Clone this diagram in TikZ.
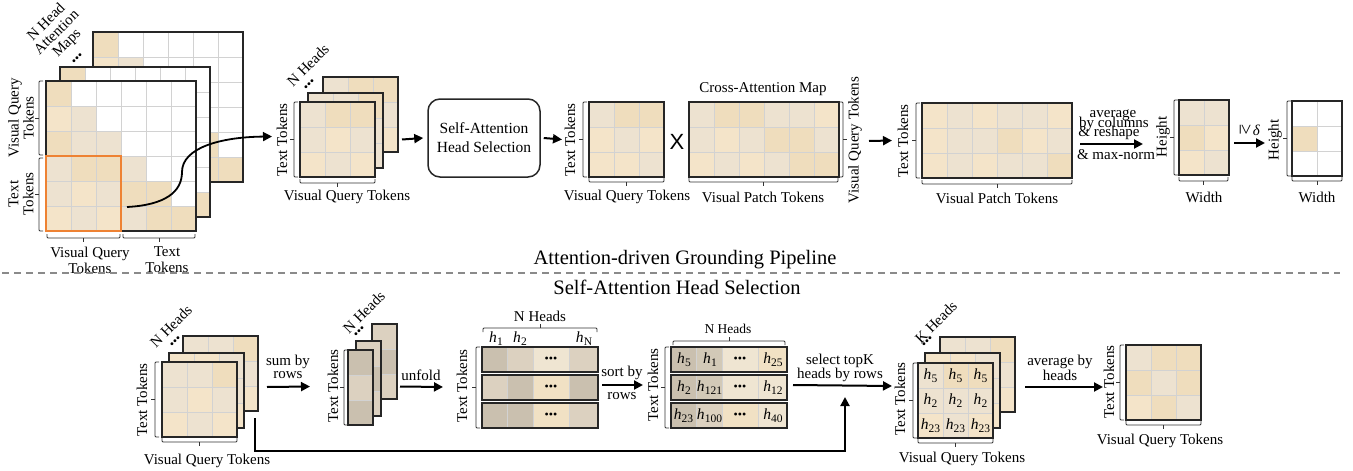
\documentclass[tikz,border=0pt]{standalone}
\usepackage{fontspec}
\setmainfont{Liberation Serif}
\setsansfont{Liberation Sans}
\usetikzlibrary{arrows.meta,calc}
\definecolor{L1}{HTML}{F4E4C9}
\definecolor{L2}{HTML}{EDE2D0}
\definecolor{L3}{HTML}{EFDDBD}
\definecolor{G1}{HTML}{CAC0AF}
\definecolor{G2}{HTML}{DCD1C0}
\definecolor{G3}{HTML}{EFE5D2}
\definecolor{G4}{HTML}{F1E1C4}
\definecolor{G6}{HTML}{D2C9B7}
\definecolor{gridc}{HTML}{D2D2D2}
\definecolor{orangeb}{HTML}{EE8233}
\definecolor{dashc}{HTML}{8A8A8A}

\tikzset{
 matnode/.style={inner sep=0pt, outer sep=0pt},
 matborder/.style={draw=black!85, line width=1.3pt},
 gridline/.style={draw=gridc, line width=1pt},
 bracestyle/.style={draw=black!80, line width=0.9pt, rounded corners=1pt},
 lab/.style={font=\fontsize{15}{13}\selectfont, inner sep=0pt, align=center},
 title/.style={font=\fontsize{20.5}{20}\selectfont, inner sep=0pt},
 dotsty/.style={font=\fontsize{12}{12}\selectfont, inner sep=0pt},
 hl/.style={font=\fontsize{15.5}{15}\selectfont, inner sep=0pt},
 arr/.style={line width=2pt, -{Triangle[length=9pt,width=9pt]}},
 boxsty/.style={draw=black!85, line width=1.5pt, rounded corners=12pt, align=center, font=\fontsize{15.5}{19}\selectfont},
}

\newcommand{\hh}[1]{\textit{h}\kern0.2pt\raisebox{-3pt}{\fontsize{11.5}{11.5}\selectfont #1}}

% matrix of 25x25 cells: name, x, y, ncols, nrows, colours (row-major)
\newcommand{\mtx}[6]{%
  \node[matnode, minimum width=#4*25pt, minimum height=#5*25pt, anchor=north west] (#1) at (#2,#3) {};
  \foreach \mcol [count=\i from 0] in {#6} {%
    \pgfmathtruncatemacro\cc{mod(\i,#4)}%
    \pgfmathtruncatemacro\rr{div(\i,#4)}%
    \fill[\mcol] ({#2+\cc*25},{#3+\rr*25}) rectangle ++(25,25);
  }%
  \ifnum#4>1
    \pgfmathtruncatemacro\ncm{#4-1}%
    \foreach \k in {1,...,\ncm} {\draw[gridline] ({#2+\k*25},#3) -- ++(0,{#5*25});}%
  \fi
  \ifnum#5>1
    \pgfmathtruncatemacro\nrm{#5-1}%
    \foreach \k in {1,...,\nrm} {\draw[gridline] (#2,{#3+\k*25}) -- ++({#4*25},0);}%
  \fi
  \draw[matborder] (#1.north west) rectangle (#1.south east);
}
% one bar of 4 cells: name, x, y, c1..c4
\newcommand{\hbarrow}[7]{%
  \node[matnode, minimum width=116pt, minimum height=25pt, anchor=north west] (#1) at (#2,#3) {};
  \fill[#4] (#2,#3) rectangle ++(25,25);
  \fill[#5] ({#2+25},#3) rectangle ++(26,25);
  \fill[#6] ({#2+51},#3) rectangle ++(36,25);
  \fill[#7] ({#2+87},#3) rectangle ++(29,25);
  \draw[gridline] ({#2+25},#3) -- ++(0,25) ({#2+51},#3) -- ++(0,25) ({#2+87},#3) -- ++(0,25);
  \draw[matborder] (#1.north west) rectangle (#1.south east);
}
% vertical bracket: x, y1, y2, d (ends toward +d, mid tick toward -d)
\newcommand{\mybrv}[4]{%
  \draw[bracestyle] ({#1+(#4)},#2) -- (#1,#2) -- (#1,#3) -- ({#1+(#4)},#3);
  \draw[bracestyle] (#1,{(#2+#3)/2}) -- ({#1-(#4)},{(#2+#3)/2});
}
% horizontal bracket: y, x1, x2, d (ends up by d, mid tick down by d)
\newcommand{\mybrh}[4]{%
  \draw[bracestyle] (#2,{#1-(#4)}) -- (#2,#1) -- (#3,#1) -- (#3,{#1-(#4)});
  \draw[bracestyle] ({(#2+#3)/2},#1) -- ({(#2+#3)/2},{#1+(#4)});
}

\begin{document}
\begin{tikzpicture}[x=1pt,y=-1pt]
\useasboundingbox (0,0) rectangle (1353,471);

%================ TOP ROW =================
\mtx{tlB}{93}{32}{6}{6}{L3,white,white,white,white,white,L1,L2,white,white,white,white,L3,L2,L2,white,white,white,L2,L3,L3,L2,white,white,L2,L1,L2,L3,L3,white,L1,L2,L1,L2,L3,L3}
\mtx{tlM}{60}{67}{6}{6}{L3,white,white,white,white,white,L1,L2,white,white,white,white,L3,L2,L2,white,white,white,L2,L3,L3,L2,white,white,L2,L1,L2,L3,L3,white,L1,L2,L1,L2,L3,L3}
\mtx{tlF}{46}{81}{6}{6}{L3,white,white,white,white,white,L1,L2,white,white,white,white,L3,L2,L2,white,white,white,L2,L3,L3,L2,white,white,L2,L1,L2,L3,L3,white,L1,L2,L1,L2,L3,L3}
\draw[orangeb, line width=1.5pt] (46,156) rectangle (121,231);
\node[lab, rotate=45, font=\fontsize{15}{14.5}\selectfont] (nham) at (57,33) {N Head\\Attention\\Maps};
\node[dotsty, rotate=45] (tldots) at (78,59) {•••};
\mybrv{39}{81}{155}{4}
\mybrv{39}{158}{231}{4}
\node[lab, rotate=90, font=\fontsize{15}{15}\selectfont] (tlvq) at (21,118) {Visual Query\\Tokens};
\node[lab, rotate=90, font=\fontsize{15}{15}\selectfont] (tltt) at (21,194) {Text\\Tokens};
\mybrh{238}{47}{120}{4}
\mybrh{238}{123}{195}{4}
\node[lab, font=\fontsize{15}{16}\selectfont] (tlbvq) at (90,260) {Visual Query\\Tokens};
\node[lab, font=\fontsize{15}{16}\selectfont] (tlbtt) at (167,260) {Text\\Tokens};

% N heads stack
\mtx{nhB}{323}{77}{3}{3}{L2,L3,L3,L3,L2,L2,L1,L2,L1}
\mtx{nhM}{308}{93}{3}{3}{L2,L2,L3,L1,L2,L2,L1,L1,L2}
\mtx{nhF}{300}{102}{3}{3}{L2,L3,L3,L2,L1,L2,L1,L2,L1}
\node[lab, rotate=45] (nhlab) at (308,65) {N Heads};
\node[dotsty, rotate=45] (nhdots) at (310,85) {•••};
\mybrv{294}{102}{177}{4}
\node[lab, rotate=90] (nhtt) at (282,140) {Text Tokens};
\mybrh{183}{300}{375}{4}
\node[lab] (nhvq) at (347,197) {Visual Query Tokens};

% curve from the text/visual block to the stack
\coordinate (cs) at (127,207);
\draw[line width=1.8pt, -{Triangle[length=9pt,width=9pt]}] (cs) .. controls (165,205) and (182,192) .. (182,172) .. controls (182,148) and (220,137) .. ($(nhF.west)+(-28,-3)$);

% head selection box
\node[boxsty, minimum width=112pt, minimum height=78pt] (box) at (484,138) {Self-Attention\\Head Selection};
\draw[arr] ($(nhB.east |- nhF.east)+(4,0)$) -- ($(box.west)+(-4,0)$);

% selected map
\mtx{hs}{589}{102}{3}{3}{L2,L3,L3,L1,L2,L1,L1,L1,L2}
\draw[arr] ($(box.east)+(3,0)$) -- ($(hs.west)+(-27,0)$);
\mybrv{583}{102}{177}{4}
\node[lab, rotate=90] (hstt) at (570,140) {Text Tokens};
\mybrh{182}{589}{664}{4}
\node[lab] (hsvq) at (627,197) {Visual Query Tokens};
\node[font=\fontsize{22}{22}\sffamily, inner sep=0pt] (times) at (677,142) {X};

% cross-attention map
\mtx{ca}{689}{102}{6}{3}{L2,L3,L3,L2,L2,L1,L2,L1,L2,L3,L3,L2,L1,L2,L1,L2,L3,L3}
\node[lab] (catitle) at (763,89) {Cross-Attention Map};
\mybrv{843}{102}{177}{-4}
\node[lab, rotate=90] (cavq) at (855,140) {Visual Query Tokens};
\mybrh{182}{689}{838}{4}
\node[lab] (capt) at (763,197) {Visual Patch Tokens};

% result map
\mtx{rm}{922}{103}{6}{3}{L1,L2,L1,L2,L2,L1,L1,L2,L2,L3,L1,L2,L1,L2,L1,L2,L2,L3}
\draw[arr] ($(ca.east)+(30,1.5)$) -- ($(rm.west)+(-30,0)$);
\mybrv{916}{103}{178}{4}
\node[lab, rotate=90] (rmtt) at (903,141) {Text Tokens};
\mybrh{184}{922}{1072}{4}
\node[lab] (rmpt) at (997,198) {Visual Patch Tokens};

% height x width map
\mtx{mB}{1179}{100}{2}{3}{L2,L2,L3,L1,L1,L2}
\draw[arr] ($(rm.east)+(8,3.5)$) -- ($(mB.west)+(-36,6.5)$);
\node[lab, anchor=base] (avg1) at (1113,117) {average};
\node[lab, anchor=base] (avg2) at (1114,127) {by columns};
\node[lab, anchor=base] (avg3) at (1109,136) {\& reshape};
\node[lab, anchor=base] (avg4) at (1116,159) {\& max-norm};
\node[lab, rotate=90] (mBh) at (1163,137) {Height};
\mybrv{1174}{100}{175}{4}
\mybrh{181}{1179}{1228}{4}
\node[lab] (mBw) at (1204,197) {Width};

% thresholded map
\mtx{mC}{1292}{101}{2}{3}{white,white,L3,white,white,white}
\draw[arr] ($(mB.east)+(5,5.5)$) -- ($(mC.west)+(-27,4.5)$);
\node[lab] (thr) at (1250,130) {{\fontsize{19}{19}\selectfont\rotatebox[origin=c]{-90}{≥}}\kern2pt\textit{δ}};
\node[lab, rotate=90] (mCh) at (1275,140) {Height};
\mybrv{1287}{101}{176}{4}
\mybrh{181}{1292}{1342}{4}
\node[lab] (mCw) at (1317,197) {Width};

%================ SEPARATOR =================
\node[title] (t1) at (685,260) {Attention-driven Grounding Pipeline};
\coordinate (dl) at (2,273);
\coordinate (dr) at (1340,273);
\draw[dashc, line width=1.2pt, dash pattern=on 7pt off 5pt] (dl) -- (dr);
\node[title] (t2) at (677,287) {Self-Attention Head Selection};

%================ BOTTOM ROW =================
\mtx{bsB}{183}{336}{3}{3}{L2,L2,L3,L2,L3,L2,L3,L2,L1}
\mtx{bsM}{169}{353}{3}{3}{L1,L1,L2,L1,L2,L2,L2,L1,L1}
\mtx{bsF}{162}{362}{3}{3}{L2,L2,L3,L2,L1,L2,L1,L2,L1}
\node[lab, rotate=45] (bslab) at (171,326) {N Heads};
\node[dotsty, rotate=45] (bsdots) at (176,342) {•••};
\mybrv{155}{362}{437}{4}
\node[lab, rotate=90] (bstt) at (142,400) {Text Tokens};
\mybrh{442}{162}{237}{4}
\node[lab] (bsvq) at (207,461) {Visual Query Tokens};

% column stack
\mtx{csB}{372}{324}{1}{3}{G2,G1,G2}
\mtx{csM}{356}{341}{1}{3}{G2,G1,G2}
\mtx{csF}{348}{350}{1}{3}{G1,G2,G1}
\draw[arr] ($(bsB.east)+(9,13.5)$) -- ($(csF.west)+(-38,-1)$);
\node[lab] (sum) at (288,367) {sum by\\rows};
\mybrv{344}{350}{425}{4}
\node[lab, rotate=90] (cstt) at (333,386) {Text Tokens};
\node[lab, rotate=45] (cslab) at (364,312) {N Heads};
\node[dotsty, rotate=45] (csdots) at (360,332) {•••};

% unfolded bars
\hbarrow{a1}{482}{347}{G1}{G2}{G3}{G2}
\hbarrow{a2}{482}{375}{G2}{G1}{G4}{G1}
\hbarrow{a3}{482}{403}{G1}{G1}{G4}{G2}
\draw[arr] ($(csB.east |- csF.east)+(3,-1)$) -- ($(a2.west)+(-39,-0.5)$);
\node[lab] (unf) at (421,375) {unfold};
\foreach \r in {a1,a2,a3} {\node[dotsty] at ($(\r.west)+(69,0)$) {•••};}
\node[hl] (ha1) at (496,339) {\hh{1}};
\node[hl] (ha2) at (520,339) {\hh{2}};
\node[hl] (haN) at (584,339) {\hh{N}};
\mybrh{328}{483}{597}{-4}
\node[lab] (nha) at (540,316) {N Heads};
\mybrv{476}{347}{428}{4}
\node[lab, rotate=90] (att) at (462,386) {Text Tokens};

% sorted bars
\hbarrow{b1}{671}{347}{G1}{G6}{G3}{G4}
\hbarrow{b2}{671}{375}{G1}{G6}{G3}{G3}
\hbarrow{b3}{671}{403}{G1}{G2}{G4}{G3}
\draw[arr] ($(a2.east)+(4,-2.5)$) -- ($(b2.west)+(-28,-2.5)$);
\node[lab] (sortl) at (622,373) {sort by};
\node[lab] (sortr) at (622,396) {rows};
\node[hl] at ($(b1.west)+(13,0)$) {\hh{5}};
\node[hl] at ($(b1.west)+(39,0)$) {\hh{1}};
\node[dotsty] at ($(b1.west)+(69,0)$) {•••};
\node[hl] at ($(b1.west)+(102,0)$) {\hh{25}};
\node[hl] at ($(b2.west)+(13,0)$) {\hh{2}};
\node[hl] at ($(b2.west)+(38.5,0)$) {\hh{121}};
\node[dotsty] at ($(b2.west)+(69,0)$) {•••};
\node[hl] at ($(b2.west)+(102,0)$) {\hh{12}};
\node[hl] at ($(b3.west)+(12.5,0)$) {\hh{23}};
\node[hl] at ($(b3.west)+(38.5,0)$) {\hh{100}};
\node[dotsty] at ($(b3.west)+(69,0)$) {•••};
\node[hl] at ($(b3.west)+(102,0)$) {\hh{40}};
\mybrh{341}{673}{785}{-4}
\node[lab, font=\fontsize{13.5}{13}\selectfont] (nhb) at (728,329) {N Heads};
\mybrv{665}{347}{428}{4}
\node[lab, rotate=90] (btt) at (653,385) {Text Tokens};

% K heads stack
\mtx{kB}{940}{337}{3}{3}{L2,L2,L3,L2,L3,L2,L3,L2,L1}
\mtx{kM}{925}{353}{3}{3}{L1,L1,L2,L1,L2,L2,L2,L1,L1}
\mtx{kF}{918}{363}{3}{3}{L2,L3,L3,L2,L2,L2,L1,L2,L1}
\foreach \cx in {0,1,2} {
  \node[hl] at ($(kF.north west)+({12.5+25*\cx},12.5)$) {\hh{5}};
  \node[hl] at ($(kF.north west)+({12.5+25*\cx},37.5)$) {\hh{2}};
  \node[hl] at ($(kF.north west)+({12.5+25*\cx},62.5)$) {\hh{23}};
}
\draw[arr] ($(b2.east)+(6,-2.5)$) -- ($(kF.west)+(-26,-14.5)$);
\node[lab] (selk) at (840,368) {select topK\\heads by rows};
\coordinate (merge) at (845,397);
\draw[arr] ($(bsB.south east)+(-3,7)$) -- ++(0,33) -| (merge);
\node[lab, rotate=45] (klab) at (936,322) {K Heads};
\node[dotsty, rotate=45] (kdots) at (928,342) {•••};
\mybrv{913}{363}{438}{4}
\node[lab, rotate=90] (ktt) at (900,399) {Text Tokens};
\mybrh{443}{918}{993}{4}
\node[lab] (kvq) at (962,459) {Visual Query Tokens};

% averaged map
\mtx{fin}{1126}{345}{3}{3}{L2,L3,L3,L3,L2,L3,L1,L3,L2}
\draw[arr] ($(kB.east)+(10,12.5)$) -- ($(fin.west)+(-23,4.5)$);
\node[lab] (avgh) at (1060,368) {average by\\heads};
\mybrv{1120}{345}{420}{4}
\node[lab, rotate=90] (ftt) at (1109,382) {Text Tokens};
\mybrh{425}{1126}{1201}{4}
\node[lab] (fvq) at (1160,441) {Visual Query Tokens};
\end{tikzpicture}
\end{document}
